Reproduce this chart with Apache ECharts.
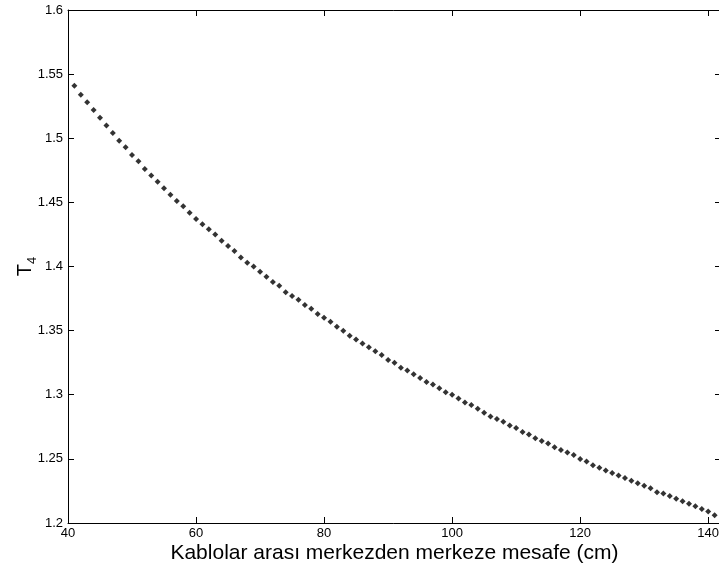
<!DOCTYPE html>
<html>
<head>
<meta charset="utf-8">
<script src="https://cdn.jsdelivr.net/npm/echarts@6/dist/echarts.min.js"></script>
<style>
  html, body { margin: 0; padding: 0; background: #fff; }
  #chart { width: 719px; height: 575px; }
</style>
</head>
<body>
<div id="chart"></div>
<script>
// Distance between cable centres (cm)
const distanceCm = [
  41, 42, 43, 44, 45, 46, 47, 48, 49, 50,
  51, 52, 53, 54, 55, 56, 57, 58, 59, 60,
  61, 62, 63, 64, 65, 66, 67, 68, 69, 70,
  71, 72, 73, 74, 75, 76, 77, 78, 79, 80,
  81, 82, 83, 84, 85, 86, 87, 88, 89, 90,
  91, 92, 93, 94, 95, 96, 97, 98, 99, 100,
  101, 102, 103, 104, 105, 106, 107, 108, 109, 110,
  111, 112, 113, 114, 115, 116, 117, 118, 119, 120,
  121, 122, 123, 124, 125, 126, 127, 128, 129, 130,
  131, 132, 133, 134, 135, 136, 137, 138, 139, 140,
  141
];

// T4 value at each distance
const t4Values = [
  1.541, 1.534, 1.528, 1.522, 1.516, 1.510, 1.504, 1.498, 1.493, 1.487,
  1.482, 1.476, 1.471, 1.466, 1.461, 1.456, 1.451, 1.447, 1.442, 1.437,
  1.433, 1.429, 1.425, 1.420, 1.416, 1.412, 1.407, 1.403, 1.400, 1.396,
  1.392, 1.388, 1.385, 1.380, 1.377, 1.374, 1.370, 1.367, 1.363, 1.360,
  1.357, 1.353, 1.350, 1.346, 1.343, 1.340, 1.337, 1.334, 1.331, 1.327,
  1.325, 1.321, 1.319, 1.316, 1.313, 1.310, 1.308, 1.305, 1.302, 1.300,
  1.297, 1.294, 1.292, 1.289, 1.286, 1.283, 1.281, 1.279, 1.276, 1.274,
  1.271, 1.269, 1.266, 1.264, 1.262, 1.259, 1.257, 1.255, 1.253, 1.250,
  1.248, 1.245, 1.243, 1.241, 1.239, 1.237, 1.235, 1.233, 1.231, 1.229,
  1.227, 1.224, 1.223, 1.221, 1.219, 1.217, 1.215, 1.213, 1.211, 1.209,
  1.206
];

const xTicks = [40, 60, 80, 100, 120, 140];
const yTicks = ['1.2', '1.25', '1.3', '1.35', '1.4', '1.45', '1.5', '1.55', '1.6'];

const xTitle = 'Kablolar arası merkezden merkeze mesafe (cm)';

const points = distanceCm.map((d, i) => [d, t4Values[i]]);

const tickFont = {
  fontFamily: '"Liberation Sans Narrow", "Liberation Sans", Arial, sans-serif',
  fontSize: 13,
  color: '#000'
};

const lineStyle = { color: '#000', width: 1 };

function xLabel(v) {
  return xTicks.indexOf(Math.round(v)) >= 0 ? String(Math.round(v)) : '';
}
function yLabel(v) {
  const s = String(Math.round(v * 100) / 100);
  return yTicks.indexOf(s) >= 0 ? s : '';
}

const chart = echarts.init(document.getElementById('chart'), null, { renderer: 'canvas' });

chart.setOption({
  animation: false,
  backgroundColor: '#fff',
  grid: { left: 68, top: 10, right: -2, bottom: 52, containLabel: false, outerBoundsMode: 'none' },
  xAxis: [
    {
      type: 'value', position: 'bottom', min: 40, max: 142, interval: 20,
      axisLine: { show: true, lineStyle: lineStyle },
      axisTick: { show: true, inside: true, length: 6, lineStyle: lineStyle },
      axisLabel: Object.assign({ margin: 4, formatter: xLabel }, tickFont),
      splitLine: { show: false },
      name: xTitle, nameLocation: 'middle', nameGap: 20, nameMoveOverlap: false,
      nameTextStyle: { fontFamily: '"Liberation Sans", Arial, sans-serif', fontSize: 21, color: '#000' }
    },
    {
      type: 'value', position: 'top', min: 40, max: 142, interval: 20,
      axisLine: { show: true, lineStyle: lineStyle },
      axisTick: { show: true, inside: true, length: 6, lineStyle: lineStyle },
      axisLabel: { show: false },
      splitLine: { show: false }
    }
  ],
  yAxis: [
    {
      type: 'value', position: 'left', min: 1.2, max: 1.6, interval: 0.05,
      axisLine: { show: true, lineStyle: lineStyle },
      axisTick: { show: true, inside: true, length: 6, lineStyle: lineStyle },
      axisLabel: Object.assign({ margin: 5, formatter: yLabel }, tickFont),
      splitLine: { show: false },
      name: '{t|T}{s|4}', nameLocation: 'middle', nameGap: 33, nameRotate: 90, nameMoveOverlap: false,
      nameTextStyle: {
        color: '#000',
        rich: {
          t: { fontFamily: '"Liberation Sans", Arial, sans-serif', fontSize: 20, color: '#000', verticalAlign: 'bottom', lineHeight: 22 },
          s: { fontFamily: '"Liberation Sans", Arial, sans-serif', fontSize: 13, color: '#000', verticalAlign: 'bottom', lineHeight: 16, padding: [0, 0, -4, 0] }
        }
      }
    },
    {
      type: 'value', position: 'right', min: 1.2, max: 1.6, interval: 0.05,
      axisLine: { show: true, lineStyle: lineStyle },
      axisTick: { show: true, inside: true, length: 6, lineStyle: lineStyle },
      axisLabel: { show: false },
      splitLine: { show: false }
    }
  ],
  series: [
    {
      type: 'scatter',
      xAxisIndex: 0,
      yAxisIndex: 0,
      data: points,
      symbol: 'diamond',
      symbolSize: 6,
      itemStyle: { color: '#000' }
    }
  ]
});
</script>
</body>
</html>
